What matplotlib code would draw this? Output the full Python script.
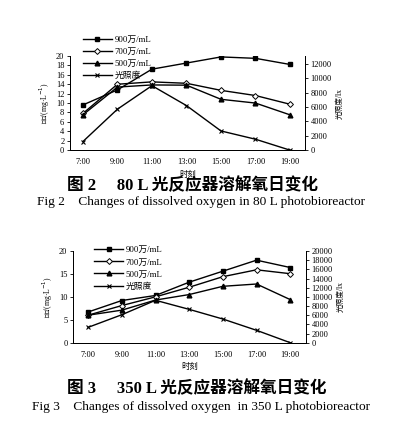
import matplotlib
matplotlib.use("Agg")
import matplotlib.pyplot as plt

plt.rcParams['font.family'] = ['Liberation Serif', 'Noto Sans CJK SC']

times = ["7:00", "9:00", "11:00", "13:00", "15:00", "17:00", "19:00"]
legend_labels = ["900万/mL", "700万/mL", "500万/mL", "光照度"]

# Figure 2: 80 L
f2_900 = [9.6, 12.8, 17.2, 18.5, 19.8, 19.5, 18.2]
f2_700 = [7.8, 14.0, 14.5, 14.2, 12.7, 11.6, 9.75]
f2_500 = [7.5, 13.4, 13.85, 13.8, 10.8, 10.0, 7.5]
f2_light = [1200, 5700, 8970, 6200, 2670, 1520, 0]
f2_left_ticks = [0, 2, 4, 6, 8, 10, 12, 14, 16, 18, 20]
f2_right_ticks = [0, 2000, 4000, 6000, 8000, 10000, 12000]

# Figure 3: 350 L
f3_900 = [6.7, 9.2, 10.3, 13.2, 15.6, 18.0, 16.4]
f3_700 = [6.0, 8.1, 10.0, 12.1, 14.4, 15.9, 15.05]
f3_500 = [6.0, 7.1, 9.3, 10.5, 12.3, 12.8, 9.4]
f3_light = [3350, 6100, 9250, 7270, 5160, 2700, 0]
f3_left_ticks = [0, 5, 10, 15, 20]
f3_right_ticks = [0, 2000, 4000, 6000, 8000, 10000, 12000, 14000, 16000, 18000, 20000]

fig = plt.figure(figsize=(3.99, 4.29), dpi=100)

def draw(rect, xlim, s900, s700, s500, light, lticks, rticks, rmax, legend_anchor, lsize):
    ax = fig.add_axes(rect)
    x = list(range(len(times)))
    h1, = ax.plot(x, s900, color='black', lw=1.0, marker='s', ms=3.4, mfc='black')
    h2, = ax.plot(x, s700, color='black', lw=1.0, marker='D', ms=3.0, mfc='white', mew=0.7)
    h3, = ax.plot(x, s500, color='black', lw=1.0, marker='^', ms=3.4, mfc='black')
    ax2 = ax.twinx()
    h4, = ax2.plot(x, light, color='black', lw=1.0, marker='x', ms=3.4, mew=0.8)
    ax.set_xlim(*xlim)
    ax.set_ylim(0, 20)
    ax2.set_ylim(0, rmax)
    ax.set_yticks(lticks)
    ax2.set_yticks(rticks)
    ax.set_xticks(x)
    ax.set_xticklabels(times)
    for a in (ax, ax2):
        a.spines['top'].set_visible(False)
        for s in a.spines.values():
            s.set_linewidth(0.7)
        a.tick_params(labelsize=6, width=0.6, length=2, pad=2)
    ax.tick_params(axis='x', length=0, pad=6)
    ax.set_ylabel("溶氧/(mg·L$^{-1}$)", fontsize=5.5, labelpad=3)
    ax2.set_ylabel("光照度/lx", fontsize=5.5, labelpad=3)
    ax.set_xlabel("时刻", fontsize=6, labelpad=3)
    fig.legend([h1, h2, h3, h4], legend_labels, loc='upper left',
               bbox_to_anchor=legend_anchor, frameon=False, fontsize=lsize,
               handlelength=3.3, handletextpad=0.3, labelspacing=0.45,
               borderpad=0, borderaxespad=0)
    return ax

draw([0.175, 0.650, 0.589, 0.2195], (-0.38, 6.43), f2_900, f2_700, f2_500, f2_light,
     f2_left_ticks, f2_right_ticks, 13100, (0.208, 0.917), 6.3)
draw([0.183, 0.2012, 0.584, 0.2137], (-0.45, 6.47), f3_900, f3_700, f3_500, f3_light,
     f3_left_ticks, f3_right_ticks, 20000, (0.236, 0.426), 6.3)

cap_fam = ['Liberation Serif', 'Noto Sans CJK SC']
fig.text(0.483, 1 - 186 / 429, "图 2　 80 L 光反应器溶解氧日变化", ha='center', va='center',
         fontsize=12, fontweight='bold', family=cap_fam)
fig.text(0.505, 1 - 202 / 429, "Fig 2    Changes of dissolved oxygen in 80 L photobioreactor",
         ha='center', va='center', fontsize=9.6, family=cap_fam)
fig.text(0.493, 1 - 389 / 429, "图 3　 350 L 光反应器溶解氧日变化", ha='center', va='center',
         fontsize=12, fontweight='bold', family=cap_fam)
fig.text(0.503, 1 - 407 / 429, "Fig 3    Changes of dissolved oxygen  in 350 L photobioreactor",
         ha='center', va='center', fontsize=9.6, family=cap_fam)

fig.savefig("out.png", dpi=100)
